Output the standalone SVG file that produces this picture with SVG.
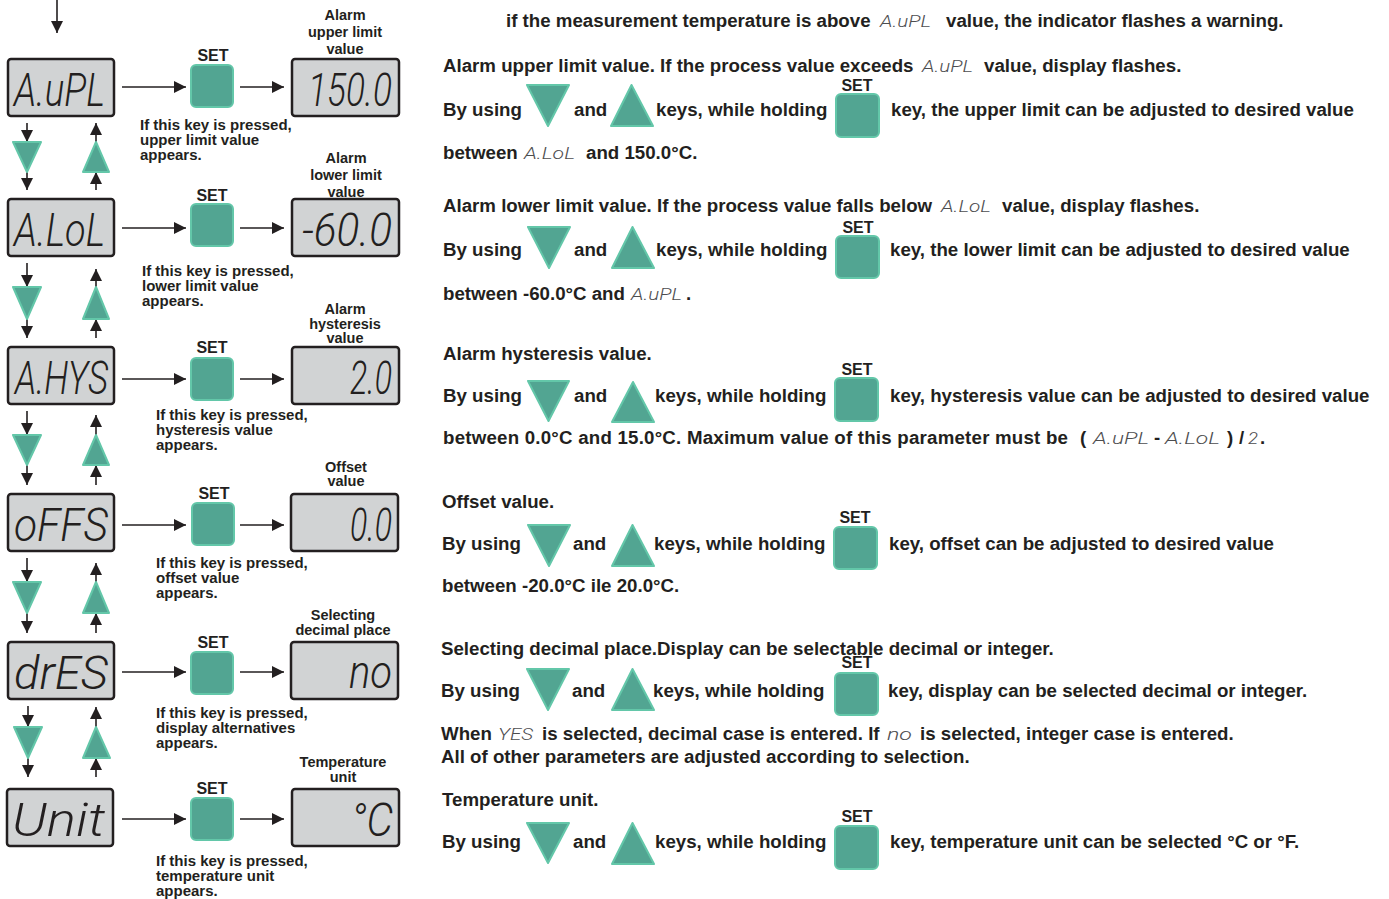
<svg xmlns="http://www.w3.org/2000/svg" width="1389" height="899" viewBox="0 0 1389 899">
<defs>
<style>
.t{font-family:"Liberation Sans",Arial,sans-serif;font-weight:bold;fill:#231f20}
.p{font-size:18.7px}
.cap{font-size:15px}
.lbl{font-size:14.5px;text-anchor:middle}
.set{font-size:16px;text-anchor:middle}
.disp{fill:#d1d3d4;stroke:#231f20;stroke-width:2.5}
.seg{font-family:Roboto,Lato,"DejaVu Sans",sans-serif;font-style:italic;font-weight:300;fill:#231f20;font-size:47px}
.iseg{font-family:Roboto,Lato,"DejaVu Sans",sans-serif;font-style:italic;font-weight:300;fill:#4d4d4f;font-size:17px}
.key{fill:#52a592;stroke:#63c7a9;stroke-width:2;stroke-linejoin:round}
.conn{stroke:#231f20;stroke-width:1.6;fill:none;marker-end:url(#ah)}
</style>
<marker id="ah" viewBox="0 0 12 12" refX="12" refY="6" markerWidth="12" markerHeight="12" markerUnits="userSpaceOnUse" orient="auto"><path d="M0,0 L12,6 L0,12 z" fill="#231f20"/></marker>
</defs>
<rect width="1389" height="899" fill="#ffffff"/>

<g id="connectors">
<line class="conn" x1="57" y1="0" x2="57" y2="33"/>
<line class="conn" x1="122" y1="87" x2="186" y2="87"/><line class="conn" x1="240" y1="87" x2="284" y2="87"/>
<line class="conn" x1="122" y1="228" x2="186" y2="228"/><line class="conn" x1="240" y1="228" x2="284" y2="228"/>
<line class="conn" x1="122" y1="379" x2="186" y2="379"/><line class="conn" x1="240" y1="379" x2="284" y2="379"/>
<line class="conn" x1="122" y1="525" x2="186" y2="525"/><line class="conn" x1="240" y1="525" x2="284" y2="525"/>
<line class="conn" x1="122" y1="672" x2="186" y2="672"/><line class="conn" x1="240" y1="672" x2="284" y2="672"/>
<line class="conn" x1="122" y1="819" x2="186" y2="819"/><line class="conn" x1="240" y1="819" x2="284" y2="819"/>
<line class="conn" x1="27" y1="123" x2="27" y2="142"/><line class="conn" x1="27" y1="172" x2="27" y2="190"/>
<line class="conn" x1="96" y1="142" x2="96" y2="123"/><line class="conn" x1="96" y1="190" x2="96" y2="172"/>
<line class="conn" x1="27" y1="263" x2="27" y2="287"/><line class="conn" x1="27" y1="319" x2="27" y2="338"/>
<line class="conn" x1="96" y1="287" x2="96" y2="269"/><line class="conn" x1="96" y1="338" x2="96" y2="319"/>
<line class="conn" x1="27" y1="411" x2="27" y2="435"/><line class="conn" x1="27" y1="465" x2="27" y2="485"/>
<line class="conn" x1="96" y1="435" x2="96" y2="415"/><line class="conn" x1="96" y1="485" x2="96" y2="465"/>
<line class="conn" x1="27" y1="558" x2="27" y2="582"/><line class="conn" x1="27" y1="613" x2="27" y2="633"/>
<line class="conn" x1="96" y1="582" x2="96" y2="563"/><line class="conn" x1="96" y1="633" x2="96" y2="613"/>
<line class="conn" x1="28" y1="706" x2="28" y2="727"/><line class="conn" x1="28" y1="758" x2="28" y2="777"/>
<line class="conn" x1="96" y1="727" x2="96" y2="707"/><line class="conn" x1="96" y1="777" x2="96" y2="758"/>
</g>

<g id="nav-keys">
<path class="key" d="M13,142 L41,142 L27,172 Z"/><path class="key" d="M96,142 L109,172 L83,172 Z"/>
<path class="key" d="M13,287 L41,287 L27,319 Z"/><path class="key" d="M96,287 L109,319 L83,319 Z"/>
<path class="key" d="M13,435 L41,435 L27,465 Z"/><path class="key" d="M96,435 L109,465 L83,465 Z"/>
<path class="key" d="M13,582 L41,582 L27,613 Z"/><path class="key" d="M96,582 L109,613 L83,613 Z"/>
<path class="key" d="M14,727 L42,727 L28,758 Z"/><path class="key" d="M96,727 L110,758 L83,758 Z"/>
</g>

<g id="row1-param"><rect class="disp" x="8" y="59" width="106" height="57" rx="3"/><text class="seg" x="14" y="106" textLength="91" lengthAdjust="spacingAndGlyphs">A.uPL</text></g>
<g id="row1-set"><text class="t set" x="213" y="61">SET</text><rect class="key" x="191" y="65" width="42" height="42" rx="5"/>
<text class="t cap" x="140" y="130">If this key is pressed,</text><text class="t cap" x="140" y="145">upper limit value</text><text class="t cap" x="140" y="160">appears.</text></g>
<g id="row1-value"><text class="t lbl" x="345" y="20">Alarm</text><text class="t lbl" x="345" y="37">upper limit</text><text class="t lbl" x="345" y="54">value</text>
<rect class="disp" x="292" y="59" width="107" height="57" rx="3"/><text class="seg" x="308" y="106" textLength="84" lengthAdjust="spacingAndGlyphs">150.0</text></g>

<g id="row2-param"><rect class="disp" x="8" y="199" width="106" height="57" rx="3"/><text class="seg" x="14" y="246" textLength="91" lengthAdjust="spacingAndGlyphs">A.LoL</text></g>
<g id="row2-set"><text class="t set" x="212" y="201">SET</text><rect class="key" x="191" y="204" width="42" height="42" rx="5"/>
<text class="t cap" x="142" y="276">If this key is pressed,</text><text class="t cap" x="142" y="291">lower limit value</text><text class="t cap" x="142" y="306">appears.</text></g>
<g id="row2-value"><text class="t lbl" x="346" y="163">Alarm</text><text class="t lbl" x="346" y="180">lower limit</text><text class="t lbl" x="346" y="197">value</text>
<rect class="disp" x="292" y="199" width="107" height="57" rx="3"/><text class="seg" x="302" y="246" textLength="90" lengthAdjust="spacingAndGlyphs">-60.0</text></g>

<g id="row3-param"><rect class="disp" x="8" y="347" width="106" height="57" rx="3"/><text class="seg" x="15" y="394" textLength="93" lengthAdjust="spacingAndGlyphs">A.HYS</text></g>
<g id="row3-set"><text class="t set" x="212" y="353">SET</text><rect class="key" x="191" y="358" width="42" height="42" rx="5"/>
<text class="t cap" x="156" y="420">If this key is pressed,</text><text class="t cap" x="156" y="435">hysteresis value</text><text class="t cap" x="156" y="450">appears.</text></g>
<g id="row3-value"><text class="t lbl" x="345" y="314">Alarm</text><text class="t lbl" x="345" y="328.5">hysteresis</text><text class="t lbl" x="345" y="343">value</text>
<rect class="disp" x="292" y="347" width="107" height="57" rx="3"/><text class="seg" x="350" y="394" textLength="42" lengthAdjust="spacingAndGlyphs">2.0</text></g>

<g id="row4-param"><rect class="disp" x="8" y="494" width="106" height="57" rx="3"/><text class="seg" x="14" y="541" textLength="94" lengthAdjust="spacingAndGlyphs">oFFS</text></g>
<g id="row4-set"><text class="t set" x="214" y="499">SET</text><rect class="key" x="192" y="503" width="42" height="42" rx="5"/>
<text class="t cap" x="156" y="568">If this key is pressed,</text><text class="t cap" x="156" y="583">offset value</text><text class="t cap" x="156" y="598">appears.</text></g>
<g id="row4-value"><text class="t lbl" x="346" y="472">Offset</text><text class="t lbl" x="346" y="486">value</text>
<rect class="disp" x="291" y="494" width="107" height="57" rx="3"/><text class="seg" x="350" y="541" textLength="42" lengthAdjust="spacingAndGlyphs">0.0</text></g>

<g id="row5-param"><rect class="disp" x="8" y="642" width="106" height="57" rx="3"/><text class="seg" x="14" y="689" textLength="94" lengthAdjust="spacingAndGlyphs">drES</text></g>
<g id="row5-set"><text class="t set" x="213" y="648">SET</text><rect class="key" x="191" y="652" width="42" height="42" rx="5"/>
<text class="t cap" x="156" y="718">If this key is pressed,</text><text class="t cap" x="156" y="733">display alternatives</text><text class="t cap" x="156" y="748">appears.</text></g>
<g id="row5-value"><text class="t lbl" x="343" y="620">Selecting</text><text class="t lbl" x="343" y="635">decimal place</text>
<rect class="disp" x="291" y="642" width="107" height="57" rx="3"/><text class="seg" x="349" y="688" textLength="43" lengthAdjust="spacingAndGlyphs">no</text></g>

<g id="row6-param"><rect class="disp" x="7" y="789" width="106" height="57" rx="3"/><text class="seg" x="12" y="836" textLength="93" lengthAdjust="spacingAndGlyphs">Unit</text></g>
<g id="row6-set"><text class="t set" x="212" y="794">SET</text><rect class="key" x="191" y="798" width="42" height="42" rx="5"/>
<text class="t cap" x="156" y="866">If this key is pressed,</text><text class="t cap" x="156" y="881">temperature unit</text><text class="t cap" x="156" y="896">appears.</text></g>
<g id="row6-value"><text class="t lbl" x="343" y="767">Temperature</text><text class="t lbl" x="343" y="782">unit</text>
<rect class="disp" x="292" y="789" width="107" height="57" rx="3"/><text class="seg" x="351" y="836" textLength="42" lengthAdjust="spacingAndGlyphs">°C</text></g>

<g id="desc-top">
<text class="t p" x="506" y="27">if the measurement temperature is above</text>
<text class="iseg" x="880" y="27" textLength="51" lengthAdjust="spacingAndGlyphs">A.uPL</text>
<text class="t p" x="946" y="27">value, the indicator flashes a warning.</text>
</g>

<g id="desc-upper">
<text class="t p" x="443" y="72">Alarm upper limit value. If the process value exceeds</text>
<text class="iseg" x="922" y="72" textLength="51" lengthAdjust="spacingAndGlyphs">A.uPL</text>
<text class="t p" x="984" y="72">value, display flashes.</text>
<text class="t p" x="443" y="116">By using</text>
<path class="key" d="M527,85 L569,85 L548,126 Z"/>
<text class="t p" x="574" y="116">and</text>
<path class="key" d="M631.5,85 L653,126 L611,126 Z"/>
<text class="t p" x="656" y="116">keys, while holding</text>
<text class="t set" x="857" y="91">SET</text>
<rect class="key" x="836" y="94" width="43" height="43" rx="5"/>
<text class="t p" x="891" y="116">key, the upper limit can be adjusted to desired value</text>
<text class="t p" x="443" y="159">between</text>
<text class="iseg" x="524" y="159" textLength="51" lengthAdjust="spacingAndGlyphs">A.LoL</text>
<text class="t p" x="586" y="159">and 150.0°C.</text>
</g>

<g id="desc-lower">
<text class="t p" x="443" y="212">Alarm lower limit value. If the process value falls below</text>
<text class="iseg" x="941" y="212" textLength="50" lengthAdjust="spacingAndGlyphs">A.LoL</text>
<text class="t p" x="1002" y="212">value, display flashes.</text>
<text class="t p" x="443" y="256">By using</text>
<path class="key" d="M528,227 L570,227 L549,268 Z"/>
<text class="t p" x="574" y="256">and</text>
<path class="key" d="M632.5,227 L654,268 L612,268 Z"/>
<text class="t p" x="656" y="256">keys, while holding</text>
<text class="t set" x="858" y="233">SET</text>
<rect class="key" x="836" y="236" width="43" height="42" rx="5"/>
<text class="t p" x="890" y="256">key, the lower limit can be adjusted to desired value</text>
<text class="t p" x="443" y="300">between -60.0°C and</text>
<text class="iseg" x="631" y="300" textLength="51" lengthAdjust="spacingAndGlyphs">A.uPL</text>
<text class="t p" x="686" y="300">.</text>
</g>

<g id="desc-hysteresis">
<text class="t p" x="443" y="360">Alarm hysteresis value.</text>
<text class="t p" x="443" y="402">By using</text>
<path class="key" d="M528,381 L569,381 L548.5,421 Z"/>
<text class="t p" x="574" y="402">and</text>
<path class="key" d="M633,382 L654,422 L612,422 Z"/>
<text class="t p" x="655" y="402">keys, while holding</text>
<text class="t set" x="857" y="375">SET</text>
<rect class="key" x="835" y="378" width="43" height="43" rx="5"/>
<text class="t p" x="890" y="402">key, hysteresis value can be adjusted to desired value</text>
<text class="t p" x="443" y="444" textLength="625" lengthAdjust="spacing">between 0.0°C and 15.0°C. Maximum value of this parameter must be</text>
<text class="t p" x="1080" y="444">(</text>
<text class="iseg" x="1093" y="444" textLength="56" lengthAdjust="spacingAndGlyphs">A.uPL</text>
<text class="t p" x="1154" y="444">-</text>
<text class="iseg" x="1165" y="444" textLength="55" lengthAdjust="spacingAndGlyphs">A.LoL</text>
<text class="t p" x="1227" y="444">)</text>
<text class="t p" x="1239" y="444">/</text>
<text class="iseg" x="1248" y="444" textLength="10" lengthAdjust="spacingAndGlyphs">2</text>
<text class="t p" x="1260" y="444">.</text>
</g>

<g id="desc-offset">
<text class="t p" x="442" y="508">Offset value.</text>
<text class="t p" x="442" y="550">By using</text>
<path class="key" d="M528,525 L570,525 L549,566 Z"/>
<text class="t p" x="573" y="550">and</text>
<path class="key" d="M632.5,525 L654,566 L612,566 Z"/>
<text class="t p" x="654" y="550">keys, while holding</text>
<text class="t set" x="855" y="523">SET</text>
<rect class="key" x="834" y="527" width="43" height="42" rx="5"/>
<text class="t p" x="889" y="550">key, offset can be adjusted to desired value</text>
<text class="t p" x="442" y="592">between -20.0°C ile 20.0°C.</text>
</g>

<g id="desc-decimal">
<text class="t p" x="441" y="655">Selecting decimal place.Display can be selectable decimal or integer.</text>
<text class="t p" x="441" y="697">By using</text>
<path class="key" d="M527,669 L569,669 L548,710 Z"/>
<text class="t p" x="572" y="697">and</text>
<path class="key" d="M632.5,669 L654,710 L612,710 Z"/>
<text class="t p" x="653" y="697">keys, while holding</text>
<text class="t set" x="857" y="668">SET</text>
<rect class="key" x="835" y="673" width="43" height="42" rx="5"/>
<text class="t p" x="888" y="697">key, display can be selected decimal or integer.</text>
<text class="t p" x="441" y="740">When</text>
<text class="iseg" x="498" y="740" textLength="35" lengthAdjust="spacingAndGlyphs">YES</text>
<text class="t p" x="542" y="740">is selected, decimal case is entered. If</text>
<text class="iseg" x="887" y="740" textLength="25" lengthAdjust="spacingAndGlyphs">no</text>
<text class="t p" x="920" y="740">is selected, integer case is entered.</text>
<text class="t p" x="441" y="763">All of other parameters are adjusted according to selection.</text>
</g>

<g id="desc-unit">
<text class="t p" x="442" y="806">Temperature unit.</text>
<text class="t p" x="442" y="848">By using</text>
<path class="key" d="M527,823 L569,823 L548,863 Z"/>
<text class="t p" x="573" y="848">and</text>
<path class="key" d="M632.5,823 L654,864 L612,864 Z"/>
<text class="t p" x="655" y="848">keys, while holding</text>
<text class="t set" x="857" y="822">SET</text>
<rect class="key" x="835" y="826" width="43" height="43" rx="5"/>
<text class="t p" x="890" y="848">key, temperature unit can be selected °C or °F.</text>
</g>
</svg>
